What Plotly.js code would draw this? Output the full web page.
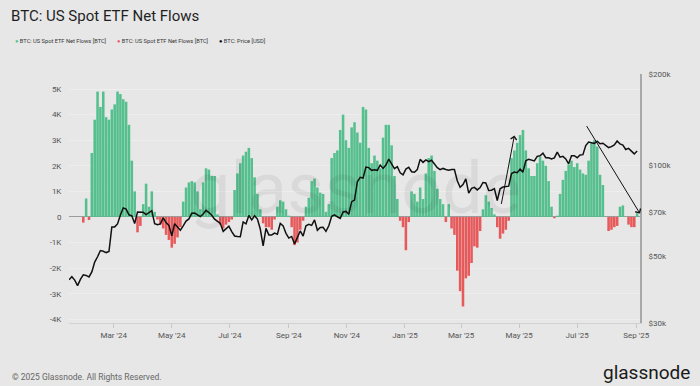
<!DOCTYPE html>
<html>
<head>
<meta charset="utf-8">
<script src="https://cdn.plot.ly/plotly-3.0.1.min.js"></script>
<style>
  html, body { margin: 0; padding: 0; background: #e7e7e7; }
  #chart { width: 700px; height: 386px; }
</style>
</head>
<body>
<div id="chart"></div>
<script>
// ---- data (sampled every 3 days from the start date) ----
const startDate = '2024-01-14';
const stepDays = 3;

// US spot ETF net flows [BTC]
const flows = [
  0,0,0,0,0,-220,720,-120,2500,3800,4900,4300,4900,3900,3800,4200,
  4400,4900,4800,4600,4500,3600,2200,1000,-600,-350,500,1300,400,1000,200,-100,
  -300,-450,-700,-900,-1200,-1050,-800,-400,600,1150,1350,1400,1350,1000,300,1350,
  1900,1850,1600,1600,100,-300,-450,-300,-200,-100,1050,1700,2100,2400,2550,2700,
  2300,1550,900,300,-250,-400,-400,-500,-100,400,650,600,300,50,-400,-1100,
  -1000,-500,-150,400,750,1400,1500,1150,950,900,200,500,2300,2500,2600,3400,
  4000,3000,2700,3500,3700,3300,2900,4300,4200,2700,2100,2400,2200,1900,3100,3600,
  3600,2800,1600,700,-150,-400,-1300,-200,1000,900,600,1150,700,1700,2300,2400,
  1800,1100,700,500,-200,500,-450,-700,-2100,-2900,-3500,-2400,-2300,-1800,-1150,-1200,
  -550,300,850,600,350,100,-400,-850,-650,-500,-150,2300,2600,2900,3200,3400,
  2600,1900,1600,1600,2100,2350,2200,2000,1400,400,-50,50,900,1450,1800,2050,
  2200,1950,2100,1850,1700,1650,2200,2900,3000,2750,1650,1250,0,-550,-500,-400,
  -350,400,450,0,-300,-400,-400,150
];

// BTC price [USD]
const price = [
  41700,42700,41600,39900,41800,43300,43100,42600,44300,47700,49700,52100,51800,51300,51700,62400,
  62400,63800,68300,72100,71400,68400,67900,64000,69900,69900,69700,68500,69400,70600,63900,63400,
  63800,66800,64500,63100,58300,63900,62300,60800,62900,65200,66300,69200,69300,68300,67500,68800,
  70800,69600,68200,66200,65100,64100,60300,61600,62700,60200,58200,58000,57900,64800,63900,68100,
  65800,67900,66200,61400,54000,61700,58700,58700,59500,59000,64100,62900,59400,57300,58000,54800,
  57600,60500,58200,62900,63600,63100,65800,60800,62100,62200,60300,62900,67600,68400,67400,66600,
  69900,70200,68700,75600,76500,88000,91000,90500,98400,98000,96000,96400,96000,99900,97400,100000,
  104500,100200,97200,98700,94200,92800,96900,98300,95000,94600,96500,104400,102000,104000,102600,103700,
  100600,98000,96500,97400,96600,96100,96600,96600,88700,84400,86100,89900,80700,83700,84300,82700,
  84200,87500,87200,82300,82500,83500,76300,83400,84500,84900,85100,93700,94700,94300,96900,94700,
  103200,104500,103500,103100,106800,107300,109400,105700,105700,104700,105600,110300,106100,106800,104700,100900,
  107300,107300,105700,108000,108200,116000,119100,118700,117900,119900,117600,118000,115800,114200,115000,116600,
  120100,117400,116300,112500,113500,111300,108800,111200
];

const xTickVals = ['2024-03-01','2024-05-01','2024-07-01','2024-09-01','2024-11-01','2025-01-01','2025-03-01','2025-05-01','2025-07-01','2025-09-01'];
const xTickText = ["Mar '24","May '24","Jul '24","Sep '24","Nov '24","Jan '25","Mar '25","May '25","Jul '25","Sep '25"];
const yTickVals = [-4000,-3000,-2000,-1000,0,1000,2000,3000,4000,5000];
const yTickText = ['-4K','-3K','-2K','-1K','0','1K','2K','3K','4K','5K'];
const y2TickVals = [30000,50000,70000,100000,200000];
const y2TickText = ['$30k','$50k','$70k','$100k','$200k'];

const seriesNames = ['BTC: US Spot ETF Net Flows [BTC]','BTC: US Spot ETF Net Flows [BTC]','BTC: Price [USD]'];
const colGreen = '#55bf8e';
const colRed = '#e65a5c';
const colPrice = '#111111';

// ---- build ----
const t0 = Date.UTC(2024, 0, 14);
const dates = flows.map((_, i) => new Date(t0 + i * stepDays * 86400000).toISOString().slice(0, 10));
const posFlows = flows.map(v => v > 0 ? v : null);
const negFlows = flows.map(v => v < 0 ? v : null);

const FONT = 'Roboto, "Liberation Sans", Arial, sans-serif';

const traces = [
  { type: 'bar', x: dates, y: posFlows, name: seriesNames[0], marker: { color: colGreen, line: { width: 0 } }, yaxis: 'y' },
  { type: 'bar', x: dates, y: negFlows, name: seriesNames[1], marker: { color: colRed, line: { width: 0 } }, yaxis: 'y' },
  { type: 'scatter', mode: 'lines', x: dates, y: price, name: seriesNames[2], line: { color: colPrice, width: 1.5 }, yaxis: 'y2' }
];

function px2x(px) { return (px - 69) / 571; }
function px2y(py) { return (323 - py) / 249; }

const annotations = [
  // watermark
  { xref: 'paper', yref: 'paper', x: px2x(355), y: px2y(188), text: 'glassnode', showarrow: false,
    font: { family: FONT, size: 72, color: 'rgba(0,0,0,0.06)' }, xanchor: 'center', yanchor: 'middle' },
  // legend
  { xref: 'paper', yref: 'paper', x: px2x(13), y: px2y(41), xanchor: 'left', yanchor: 'middle', showarrow: false,
    text: '<span style="color:' + colGreen + '">●</span> ' + seriesNames[0], font: { family: FONT, size: 5.7, color: '#333' } },
  { xref: 'paper', yref: 'paper', x: px2x(115), y: px2y(41), xanchor: 'left', yanchor: 'middle', showarrow: false,
    text: '<span style="color:' + colRed + '">●</span> ' + seriesNames[1], font: { family: FONT, size: 5.7, color: '#333' } },
  { xref: 'paper', yref: 'paper', x: px2x(217), y: px2y(41), xanchor: 'left', yanchor: 'middle', showarrow: false,
    text: '<span style="color:#000">●</span> ' + seriesNames[2], font: { family: FONT, size: 5.7, color: '#333' } },
  // footer
  { xref: 'paper', yref: 'paper', x: px2x(10), y: px2y(377), xanchor: 'left', yanchor: 'middle', showarrow: false,
    text: '© 2025 Glassnode. All Rights Reserved.', font: { family: FONT, size: 8.5, color: '#666' } },
  { xref: 'paper', yref: 'paper', x: px2x(692), y: px2y(372), xanchor: 'right', yanchor: 'middle', showarrow: false,
    text: 'glassnode', font: { family: FONT, size: 19, color: '#1a1a1a' } },
  // arrows
  { xref: 'x', yref: 'y', axref: 'x', ayref: 'y', x: '2025-04-26', y: 3180, ax: '2025-04-12', ay: 450,
    showarrow: true, arrowhead: 4, arrowsize: 1.2, arrowwidth: 1, arrowcolor: '#111', text: '' },
  { xref: 'x', yref: 'y', axref: 'x', ayref: 'y', x: '2025-09-05', y: 130, ax: '2025-07-10', ay: 3610,
    showarrow: true, arrowhead: 4, arrowsize: 1.2, arrowwidth: 1, arrowcolor: '#111', text: '' }
];

const layout = {
  width: 700, height: 386,
  paper_bgcolor: '#e7e7e7', plot_bgcolor: '#e7e7e7',
  margin: { l: 69, r: 60, t: 74, b: 63 },
  font: { family: FONT, color: '#555' },
  showlegend: false,
  barmode: 'relative', bargap: 0.1,
  title: { text: 'BTC: US Spot ETF Net Flows', x: 11 / 700, xanchor: 'left', xref: 'container',
           y: 1 - 16 / 386, yanchor: 'middle', yref: 'container', font: { family: FONT, size: 15, color: '#1f1f1f' } },
  xaxis: {
    type: 'date', range: ['2024-01-14', '2025-09-05'],
    tickvals: xTickVals, ticktext: xTickText, tickfont: { size: 8, color: '#555' },
    ticks: 'outside', ticklen: 4, tickcolor: '#c8c8c8',
    showline: true, linecolor: '#d2d2d2', linewidth: 1, showgrid: false, zeroline: false
  },
  yaxis: {
    range: [-4145, 5587], tickvals: yTickVals, ticktext: yTickText, tickfont: { size: 8, color: '#555' },
    ticks: 'outside', ticklen: 5, tickcolor: 'rgba(0,0,0,0)',
    showgrid: true, gridcolor: '#eeeeee', gridwidth: 1,
    zeroline: true, zerolinecolor: '#9c9c9c', zerolinewidth: 1, showline: false
  },
  yaxis2: {
    overlaying: 'y', side: 'right', type: 'log',
    range: [Math.log10(30000), Math.log10(200000)],
    tickvals: y2TickVals, ticktext: y2TickText, tickfont: { size: 8, color: '#555' },
    ticks: 'outside', ticklen: 5, tickcolor: 'rgba(0,0,0,0)',
    showline: true, linecolor: '#a8a8a8', linewidth: 2, showgrid: false, zeroline: false
  },
  annotations: annotations
};

Plotly.newPlot('chart', traces, layout, { staticPlot: true, displayModeBar: false });
</script>
</body>
</html>
